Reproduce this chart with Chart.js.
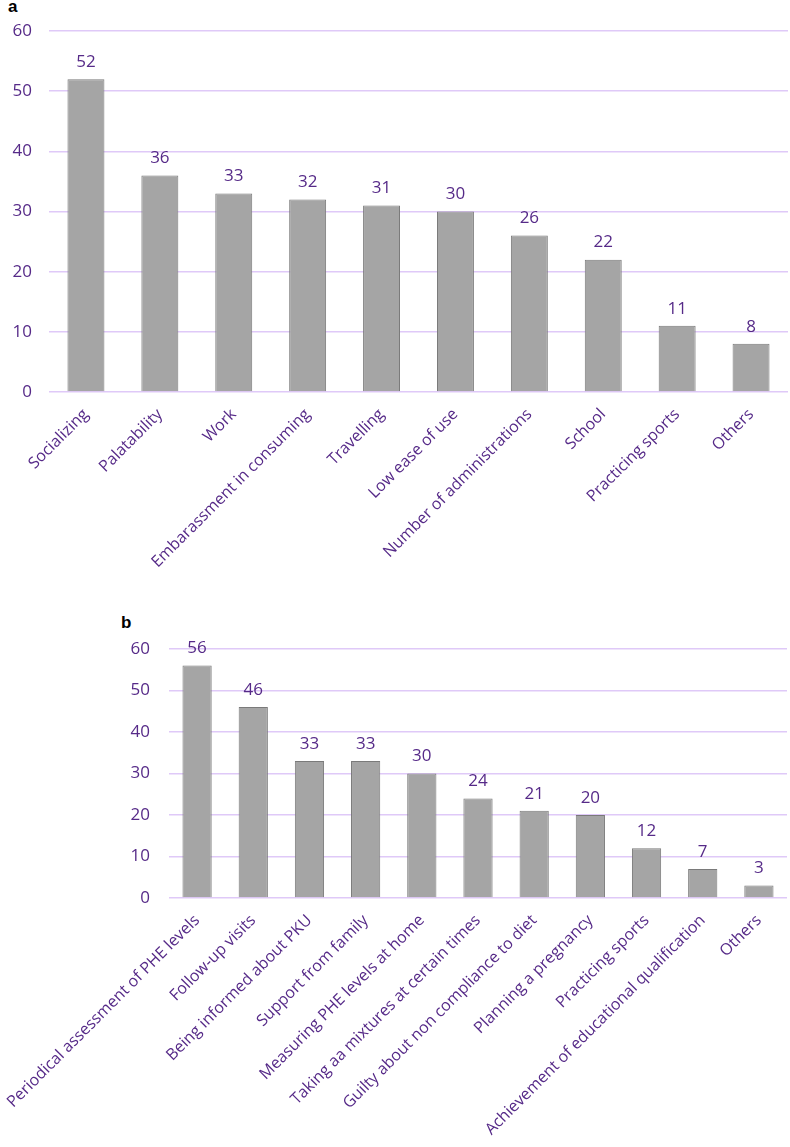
<!DOCTYPE html>
<html>
<head>
<meta charset="utf-8">
<script src="https://cdn.jsdelivr.net/npm/chart.js@4.4.0/dist/chart.umd.min.js"></script>
<style>
    body { margin: 0; background: #fff; width: 790px; height: 1147px; position: relative; overflow: hidden; }
    .painel { position: absolute; left: 0; width: 790px; }
    #painelA { top: 0; }
    #painelB { top: 590px; }
    .letra { position: absolute; font: bold 17px "Liberation Sans", Arial, sans-serif; color: #000; }
</style>
</head>
<body>
<div class="letra" style="left:8px; top:-3px;">a</div>
<div class="letra" style="left:121px; top:613px;">b</div>
<div class="painel" id="painelA"><canvas id="graficoA" width="790" height="580"></canvas></div>
<div class="painel" id="painelB"><canvas id="graficoB" width="790" height="557"></canvas></div>
<script>
const categoriasA = ['Socializing', 'Palatability', 'Work', 'Embarassment in consuming', 'Travelling',
    'Low ease of use', 'Number of administrations', 'School', 'Practicing sports', 'Others'];
const valoresA = [52, 36, 33, 32, 31, 30, 26, 22, 11, 8];

const categoriasB = ['Periodical assessment of PHE levels', 'Follow-up visits', 'Being informed about PKU',
    'Support from family', 'Measuring PHE levels at home', 'Taking aa mixtures at certain times',
    'Guilty about non compliance to diet', 'Planning a pregnancy', 'Practicing sports',
    'Achievement of educational qualification', 'Others'];
const valoresB = [56, 46, 33, 33, 30, 24, 21, 20, 12, 7, 3];

const ticksY = [0, 10, 20, 30, 40, 50, 60];

const roxo = '#562A88';
const grade = '#DFC9F8';

Chart.defaults.font.family = '"Open Sans", "Noto Sans", sans-serif';
Chart.defaults.color = roxo;

// valores em cima das barras
const rotulos = {
    id: 'rotulos',
    afterDatasetsDraw(chart) {
        const ctx = chart.ctx;
        const meta = chart.getDatasetMeta(0);
        const dados = chart.data.datasets[0].data;
        ctx.save();
        ctx.font = '17px "Open Sans", sans-serif';
        ctx.fillStyle = roxo;
        ctx.textAlign = 'center';
        ctx.textBaseline = 'middle';
        meta.data.forEach((barra, i) => {
            ctx.fillText(dados[i], barra.x, barra.y - 17);
        });
        ctx.restore();
    }
};

function criarGrafico(id, categorias, valores, cfg){
    new Chart(document.getElementById(id), {
        type: 'bar',
        data: {
            labels: categorias,
            datasets: [{
                data: valores,
                backgroundColor: '#A5A5A5',
                borderColor: '#7A7A7A',
                borderWidth: 1,
                categoryPercentage: 1,
                barPercentage: cfg.barra
            }]
        },
        options: {
            responsive: false,
            animation: false,
            layout: { padding: { left: 0, right: cfg.direita, top: cfg.topo, bottom: 0 } },
            plugins: { legend: { display: false }, tooltip: { enabled: false } },
            scales: {
                x: {
                    grid: { display: false },
                    border: { display: false },
                    ticks: {
                        autoSkip: false,
                        minRotation: 45,
                        maxRotation: 45,
                        padding: 5,
                        color: roxo,
                        font: { size: 16 }
                    },
                    afterFit: (escala) => {
                        escala.height = cfg.alturaX;
                        escala.paddingLeft = 0;
                        escala.paddingRight = 0;
                    }
                },
                y: {
                    min: 0,
                    max: 60,
                    afterBuildTicks: (escala) => {
                        escala.ticks = ticksY.map(v => ({ value: v }));
                    },
                    grid: { color: grade, lineWidth: 1.5, drawTicks: false },
                    border: { display: false },
                    ticks: { padding: cfg.padY, color: roxo, font: { size: 17 } },
                    afterFit: (escala) => {
                        escala.width = cfg.larguraY;
                        escala.paddingTop = 0;
                        escala.paddingBottom = 0;
                    }
                }
            }
        },
        plugins: [rotulos]
    });
}

criarGrafico('graficoA', categoriasA, valoresA, {
    barra: 0.5, direita: 2, topo: 31, alturaX: 188, larguraY: 49, padY: 17
});
criarGrafico('graficoB', categoriasB, valoresB, {
    barra: 0.52, direita: 3, topo: 59, alturaX: 249, larguraY: 169, padY: 19
});
</script>
</body>
</html>
